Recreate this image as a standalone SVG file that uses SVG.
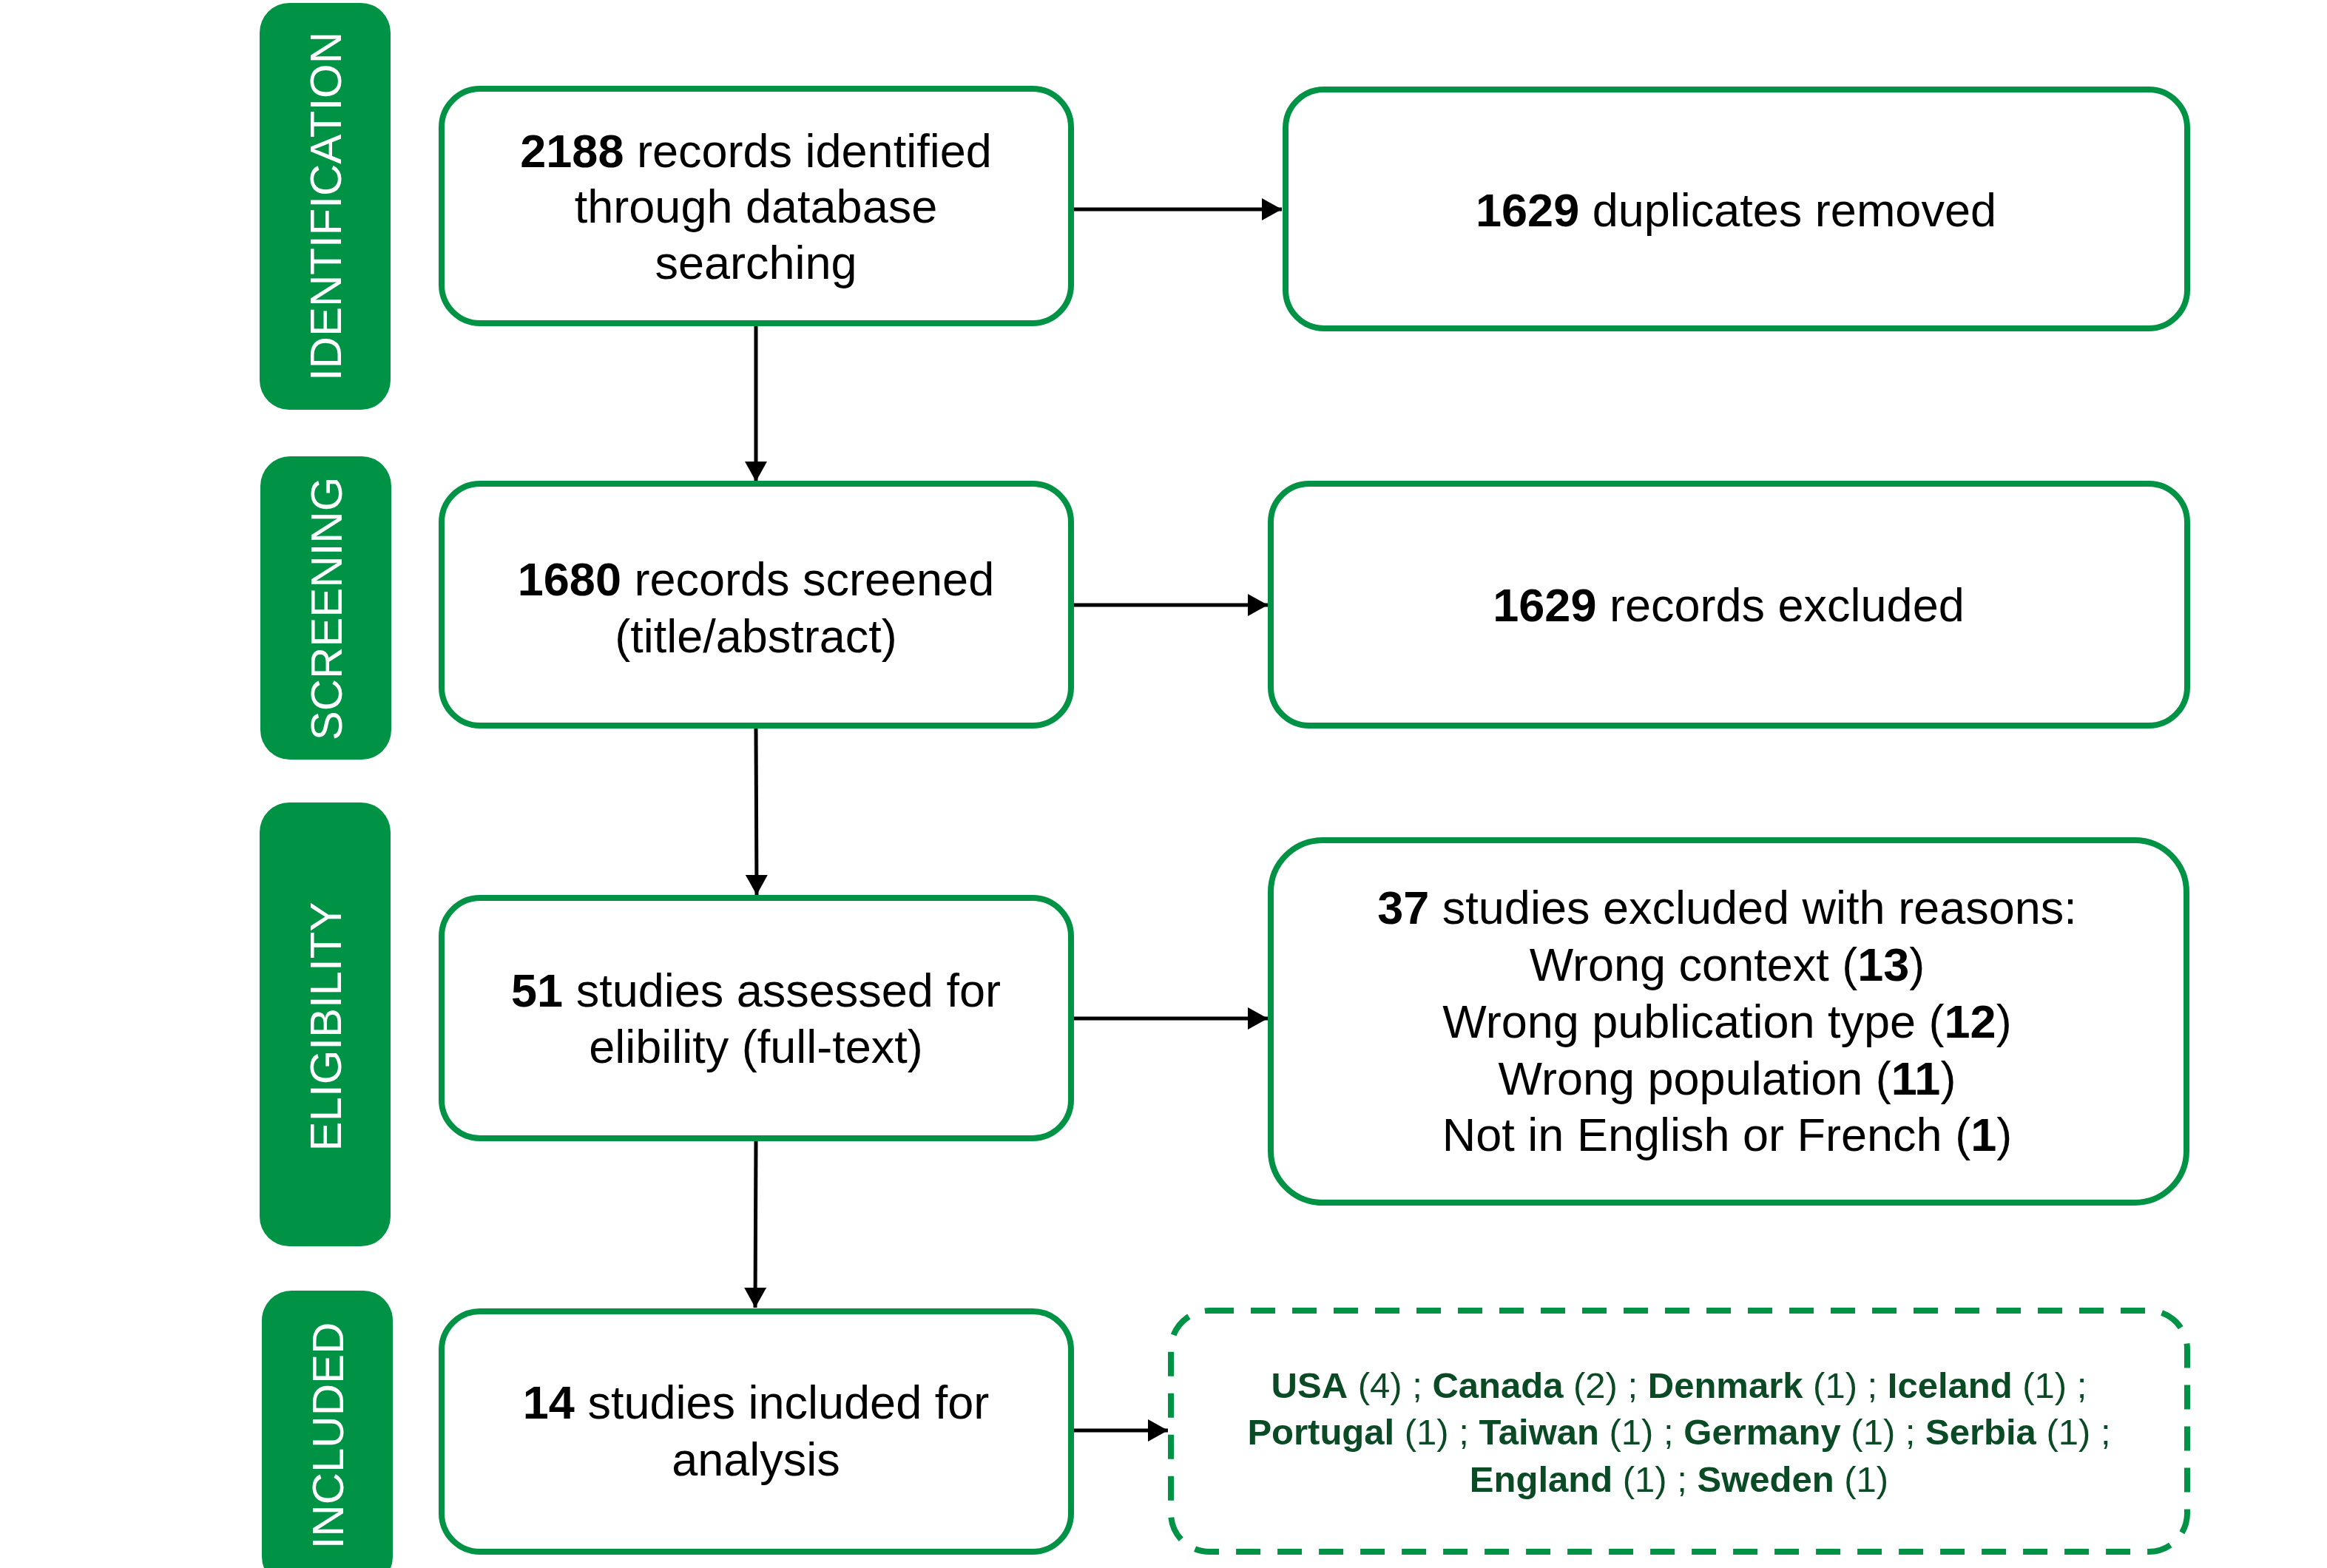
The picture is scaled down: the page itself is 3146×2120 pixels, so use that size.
<svg xmlns="http://www.w3.org/2000/svg" width="3146" height="2120" viewBox="0 0 3146 2120">
<defs>
<style>
.stage{fill:#009245;}
.stage-t{fill:#ffffff;font-family:"Liberation Sans",Arial,sans-serif;font-size:60px;text-anchor:middle;}
.box{fill:#ffffff;stroke:#009245;stroke-width:8;}
.dbox{fill:#ffffff;stroke:#009245;stroke-width:8;stroke-dasharray:33 23;}
.t{fill:#000000;font-family:"Liberation Sans",Arial,sans-serif;font-size:63px;text-anchor:middle;}
.c{fill:#0a4a24;font-family:"Liberation Sans",Arial,sans-serif;font-size:49px;text-anchor:middle;}
.b{font-weight:700;}
.conn{fill:none;stroke:#000000;stroke-width:5;}
</style>
<marker id="arrow" viewBox="0 0 27 30" refX="27" refY="15" markerWidth="27" markerHeight="30" markerUnits="userSpaceOnUse" orient="auto">
<path d="M0,0 L27,15 L0,30 Z" fill="#000000"/>
</marker>
</defs>
<rect width="3146" height="2120" fill="#ffffff"/>

<g id="stage-identification">
<rect class="stage" x="351" y="4" width="177" height="550" rx="40"/>
<text class="stage-t" transform="translate(461,279) rotate(-90)">IDENTIFICATION</text>
</g>
<g id="stage-screening">
<rect class="stage" x="352" y="617" width="177" height="410" rx="40"/>
<text class="stage-t" transform="translate(462,823) rotate(-90)">SCREENING</text>
</g>
<g id="stage-eligibility">
<rect class="stage" x="351" y="1085" width="177" height="600" rx="40"/>
<text class="stage-t" transform="translate(461,1388) rotate(-90)">ELIGIBILITY</text>
</g>
<g id="stage-included">
<rect class="stage" x="354" y="1745" width="177" height="400" rx="40"/>
<text class="stage-t" transform="translate(464,1941) rotate(-90)">INCLUDED</text>
</g>

<g id="connectors">
<path class="conn" d="M1452,283 L1733,283" marker-end="url(#arrow)"/>
<path class="conn" d="M1022,441 L1022,651" marker-end="url(#arrow)"/>
<path class="conn" d="M1452,818 L1714,818" marker-end="url(#arrow)"/>
<path class="conn" d="M1022,985 L1023,1210" marker-end="url(#arrow)"/>
<path class="conn" d="M1452,1377 L1714,1377" marker-end="url(#arrow)"/>
<path class="conn" d="M1022,1543 L1021,1768" marker-end="url(#arrow)"/>
<path class="conn" d="M1452,1934 L1579,1934" marker-end="url(#arrow)"/>
</g>

<g id="node-identified">
<rect class="box" x="597" y="120" width="851" height="317" rx="52"/>
<text class="t" x="1022" y="226"><tspan class="b">2188</tspan> records identified</text>
<text class="t" x="1022" y="301">through database</text>
<text class="t" x="1022" y="377">searching</text>
</g>
<g id="node-duplicates">
<rect class="box" x="1738" y="121" width="1219" height="323" rx="52"/>
<text class="t" x="2347" y="306"><tspan class="b">1629</tspan> duplicates removed</text>
</g>
<g id="node-screened">
<rect class="box" x="597" y="654" width="851" height="327" rx="52"/>
<text class="t" x="1022" y="805"><tspan class="b">1680</tspan> records screened</text>
<text class="t" x="1022" y="882">(title/abstract)</text>
</g>
<g id="node-excluded">
<rect class="box" x="1718" y="654" width="1239" height="327" rx="52"/>
<text class="t" x="2337" y="840"><tspan class="b">1629</tspan> records excluded</text>
</g>
<g id="node-assessed">
<rect class="box" x="597" y="1214" width="851" height="325" rx="52"/>
<text class="t" x="1022" y="1361"><tspan class="b">51</tspan> studies assessed for</text>
<text class="t" x="1022" y="1437">elibility (full-text)</text>
</g>
<g id="node-reasons">
<rect class="box" x="1718" y="1136" width="1238" height="490" rx="70"/>
<text class="t" x="2335" y="1249"><tspan class="b">37</tspan> studies excluded with reasons:</text>
<text class="t" x="2335" y="1326">Wrong context (<tspan class="b">13</tspan>)</text>
<text class="t" x="2335" y="1403">Wrong publication type (<tspan class="b">12</tspan>)</text>
<text class="t" x="2335" y="1480">Wrong population (<tspan class="b">11</tspan>)</text>
<text class="t" x="2335" y="1556">Not in English or French (<tspan class="b">1</tspan>)</text>
</g>
<g id="node-included">
<rect class="box" x="597" y="1773" width="851" height="325" rx="52"/>
<text class="t" x="1022" y="1918"><tspan class="b">14</tspan> studies included for</text>
<text class="t" x="1022" y="1995">analysis</text>
</g>
<g id="node-countries">
<rect class="dbox" x="1583" y="1772" width="1374" height="326" rx="52"/>
<text class="c" x="2270" y="1890"><tspan class="b">USA</tspan> (4) ; <tspan class="b">Canada</tspan> (2) ; <tspan class="b">Denmark</tspan> (1) ; <tspan class="b">Iceland</tspan> (1) ;</text>
<text class="c" x="2270" y="1953"><tspan class="b">Portugal</tspan> (1) ; <tspan class="b">Taiwan</tspan> (1) ; <tspan class="b">Germany</tspan> (1) ; <tspan class="b">Serbia</tspan> (1) ;</text>
<text class="c" x="2270" y="2017"><tspan class="b">England</tspan> (1) ; <tspan class="b">Sweden</tspan> (1)</text>
</g>
</svg>
